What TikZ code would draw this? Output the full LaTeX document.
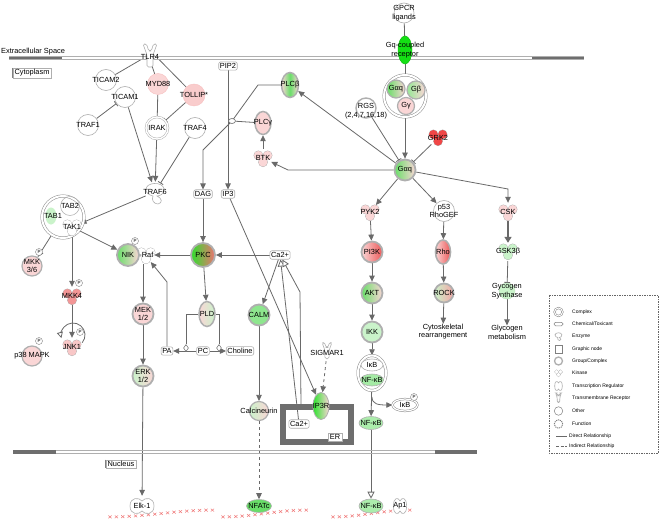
\documentclass[tikz,border=0pt]{standalone}
\usepackage{fontspec}
\setmainfont{Liberation Sans}
\usetikzlibrary{arrows.meta,shapes.geometric,calc}
\pgfdeclarelayer{bg}
\pgfsetlayers{bg,main}
\definecolor{pinkL}{RGB}{250,214,214}
\definecolor{pinkM}{RGB}{244,165,165}
\definecolor{redM}{RGB}{236,88,88}
\definecolor{redS}{RGB}{240,70,70}
\definecolor{greenB}{RGB}{20,224,20}
\definecolor{greenM}{RGB}{105,222,105}
\definecolor{greenL}{RGB}{202,243,202}
\definecolor{edgec}{RGB}{105,105,105}
\definecolor{outl}{RGB}{175,175,175}
\definecolor{memb}{RGB}{110,110,110}
\definecolor{dnac}{RGB}{240,120,120}
\tikzset{
  pics/kin/.style={code={
    \filldraw[draw=outl, fill=#1, line width=0.8pt] (-4.6,-2.6) circle (4.4) (4.6,-2.6) circle (4.4) (0,4.2) circle (4.4);
    \fill[#1] (-4.6,-2.6) circle (4.4) (4.6,-2.6) circle (4.4) (0,4.2) circle (4.4);
  }},
  pics/tmr/.style={code={
    \filldraw[draw=outl, fill=white, line width=0.6pt, rounded corners=1.5pt]
      (-7,-12) -- (-3.5,-12) -- (-1.2,-5) -- (1.2,-5) -- (3.5,-12) -- (7,-12) -- (3,-1) -- (3,11) -- (-3,11) -- (-3,-1) -- cycle;
  }},
  pics/treg/.style={code={
    \filldraw[draw=outl, fill=white, line width=0.6pt] (-12,0) .. controls (-12,-9) and (-3,-9) .. (0,-5) .. controls (3,-9) and (12,-9) .. (12,0) .. controls (12,9) and (3,9) .. (0,5) .. controls (-3,9) and (-12,9) .. cycle;
  }},
  pics/enz/.style={code={
    \filldraw[draw=outl, fill=white, line width=0.6pt] (-9,-2) .. controls (-10,-10) and (8,-11) .. (9,-3) .. controls (9,2) and (5,4) .. (2,4) .. controls (7,6) and (8,11) .. (3,12) .. controls (-1,12) and (-4,8) .. (-2,4) .. controls (-6,3) and (-9,1) .. cycle;
  }},
}
\begin{document}
\begin{tikzpicture}[x=1pt,y=-1pt,
  every node/.style={font=\fontsize{7.4}{8.4}\selectfont, inner sep=0pt, align=center},
  t/.style={label={center:#1}},
  oth/.style={circle, draw=outl, line width=0.6pt, fill=white, minimum size=#1},
  oth/.default=21,
  grp/.style={circle, draw=outl, line width=1.8pt, minimum size=#1},
  grp/.default=21,
  chem/.style={rectangle, rounded corners=2pt, draw=outl, line width=0.6pt, fill=white, inner xsep=1.2pt, inner ysep=1.6pt},
  hit/.style={circle, minimum size=#1},
  hit/.default=18,
  lnk/.style={draw=edgec, line width=0.8pt},
  arr/.style={lnk, -{Triangle[length=6pt,width=5.5pt]}},
  inh/.style={lnk, -{Bar[width=6pt,line width=0.8pt]}},
  oarr/.style={lnk, -{Triangle[open,length=7pt,width=7pt,fill=white]}},
  phos/.style={circle, draw=gray, line width=0.4pt, fill=white, minimum size=7, font=\fontsize{4.5}{5}\selectfont},
  junc/.style={ellipse, draw=edgec, line width=0.6pt, fill=white, minimum width=7, minimum height=5},
  rxn/.style={diamond, draw=edgec, line width=0.5pt, fill=white, minimum width=5, minimum height=7},
  leg/.style={anchor=west, font=\fontsize{5}{6}\selectfont},
  dna/.style={draw=dnac, line width=0.5pt},
  tagbox/.style={draw=outl, line width=0.5pt, inner xsep=1.5pt, inner ysep=1.5pt},
]
\useasboundingbox (0,0) rectangle (660,521);
\begin{pgfonlayer}{bg}
\fill[white] (0,0) rectangle (660,521);
\end{pgfonlayer}

% membranes
\draw[outl, line width=0.5pt] (9,56.6) -- (584,56.6) (9,59.4) -- (584,59.4);
\draw[memb, line width=2.6pt] (9,58) -- (62,58) (532,58) -- (584,58);
\draw[outl, line width=0.5pt] (13,450.3) -- (477,450.3) (13,453.7) -- (477,453.7);
\draw[memb, line width=3.4pt] (13,452) -- (56,452) (435,452) -- (477,452);
\node[anchor=west] (extra) at (1,52) {Extracellular Space};
\node[tagbox] (cyto) at (32,73) {Cytoplasm};
\draw[gray, line width=0.8pt] (cyto.north west) -- (cyto.south west);
\node[tagbox] (nucl) at (121,464) {Nucleus};
\draw[gray, line width=0.8pt] (nucl.north west) -- (nucl.south west);

% GPCR part
\node[oth=20, t={GPCR\\ligands}] (gpcr) at (404,13) {};
\node[ellipse, fill=greenB, draw=greenB!85!black, line width=0.5pt, minimum width=14, minimum height=28, t={Gq-coupled\\receptor}] (gqr) at (405,50) {};
\node[circle, draw=gray!90, line width=0.5pt, double=white, double distance=2pt, fill=white, minimum size=42] (gcx) at (405,96) {};
\node[circle, draw=outl, line width=1.2pt, left color=greenM, right color=pinkL, minimum size=18, t={Gαq}] (gaqa) at (396,89) {};
\node[circle, draw=outl, line width=1.2pt, left color=greenM!70!white, right color=pinkL, minimum size=18, t={Gβ}] (gb) at (416,90) {};
\node[circle, draw=outl, line width=1.2pt, fill=pinkL, minimum size=17, t={Gγ}] (gg) at (406,106) {};
\node[grp=21, left color=greenM, right color=pinkL, t={Gαq}] (gaq) at (405,170) {};
\node[grp=20, fill=white, line width=1.4pt] (rgs) at (366,108) {};
\node (rgst) at (366,111) {RGS\\(2,4,7,16,18)};
\pic at (438,137) {kin=redS};
\node[hit, t={GRK2}] (grk2) at (438,138) {};

% PLC part
\node[ellipse, draw=outl, line width=1.5pt, left color=pinkL, right color=pinkL, middle color=greenM, minimum width=17, minimum height=25, t={PLCβ}] (plcb) at (290,85) {};
\node[ellipse, draw=outl, line width=1.5pt, fill=pinkL, minimum width=16, minimum height=23, t={PLCγ}] (plcg) at (263,123) {};
\pic at (263,158) {kin=pinkL};
\node[hit, t={BTK}] (btk) at (263,158) {};
\node[chem] (pip2) at (228,66) {PIP2};
\node[chem] (dag) at (203,194) {DAG};
\node[chem] (ip3) at (228,194) {IP3};
\node[junc] (jn) at (232,121) {};

% TLR part
\pic at (150,56) {tmr};
\node (tlr4) at (150,57) {TLR4};
\node[oth, t={TICAM2}] (ticam2) at (106,80) {};
\node[oth, t={TICAM1}] (ticam1) at (125,97) {};
\node[circle, fill=pinkL, draw=pinkM!70, line width=0.4pt, minimum size=21, t={MYD88}] (myd88) at (158,84) {};
\node[circle, fill=pinkL!80!pinkM, draw=pinkM!70, line width=0.4pt, minimum size=22, t={TOLLIP*}] (tollip) at (194,95) {};
\node[oth, t={TRAF1}] (traf1) at (88,125) {};
\node[circle, draw=outl, line width=0.5pt, double=white, double distance=1.3pt, fill=white, minimum size=22, t={IRAK}] (irak) at (157,128) {};
\node[oth, t={TRAF4}] (traf4) at (195,128) {};
\pic at (155,192) {enz};
\node[hit=20, t={TRAF6}] (traf6) at (155,192) {};

% TAB complex
\node[circle, draw=gray!90, line width=0.5pt, double=white, double distance=2pt, fill=white, minimum size=42] (tabcx) at (63,217) {};
\node[circle, draw=outl, line width=0.5pt, minimum size=19] (tab2c) at (70,206) {};
\node[ellipse, fill=greenL, minimum width=11, minimum height=17] (tab1c) at (51,216) {};
\pic at (72,227) {kin=white};
\node (tab2) at (70,206) {TAB2};
\node (tab1) at (53,216) {TAB1};
\node (tak1) at (72,227) {TAK1};
\node[hit=18] (tak1k) at (72,227) {};

% MAPK branch
\node[circle, fill=pinkL, draw=outl, line width=1.2pt, minimum size=20, t={MKK\\3/6}] (mkk36) at (32,266) {};
\node[phos] (p1) at (39,252) {P};
\pic at (72,296) {kin=pinkM!80!redM};
\node[hit, t={MKK4}] (mkk4) at (72,296) {};
\node[phos] (p5) at (79,283) {P};
\pic at (72,347) {kin=pinkL!70!pinkM};
\node[hit, t={JNK1}] (jnk1) at (72,347) {};
\node[phos] (p6) at (80,332) {P};
\node[circle, fill=pinkL, draw=outl, line width=1.2pt, minimum size=20, t={p38 MAPK}] (p38) at (32,356) {};
\node[phos] (p4) at (39,341) {P};

% NIK / Raf / PKC
\pic at (146,255) {kin=white};
\node (raft) at (144.5,255) {c-Raf};
\node[hit=18] (raf) at (145,255) {};
\node[phos] (p2) at (135,241) {P};
\node[grp=22, left color=greenM, right color=pinkL, t={NIK}] (nik) at (128,255) {};
\node[grp=24, left color=greenB!70!greenM, right color=redM!80!pinkL, t={PKC}] (pkc) at (203,255) {};
\node[chem] (ca) at (280,255) {Ca2+};
\node[ellipse, draw=outl, line width=1.5pt, left color=pinkL, right color=greenL, minimum width=16, minimum height=25, t={PLD}] (pld) at (207,314) {};
\node[grp=21, fill=pinkL, t={MEK\\1/2}] (mek) at (143,314) {};
\node[grp=21, left color=greenL, right color=pinkL, t={ERK\\1/2}] (erk) at (143,376) {};
\node[chem] (pa) at (167,351) {PA};
\node[chem] (pc) at (203,351) {PC};
\node[chem] (chol) at (240,351) {Choline};
\node[rxn] (r1) at (186,348) {};
\node[rxn] (r2) at (219,348) {};

% Calcium branch
\node[grp=21, fill=greenM!75!white, t={CALM}] (calm) at (259,315) {};
\node[circle, draw=outl, line width=1.2pt, left color=greenL, right color=pinkL, minimum size=19, t={Calcineurin}] (calc) at (259,411) {};
\pic[scale=0.7] at (327,351) {tmr};
\node[hit=16, t={SIGMAR1}] (sig) at (327,353) {};
\draw[memb, line width=5.5pt] (283,407) rectangle (351,442);
\node[ellipse, draw=outl, line width=0.8pt, left color=greenB!90!white, right color=pinkL, minimum width=16, minimum height=27, t={IP3R}] (ip3r) at (321,406) {};
\node[chem] (caer) at (299,424) {Ca2+};
\node[rectangle, draw=outl, line width=0.5pt, fill=white, inner xsep=2pt, inner ysep=1.5pt] (er) at (335,437) {ER};

% PYK2 / NF-kB branch
\pic at (370,212) {kin=pinkL};
\node[hit, t={PYK2}] (pyk2) at (370,212) {};
\node[grp=21, left color=pinkL, right color=redM, t={PI3K}] (pi3k) at (372,252) {};
\node[grp=21, left color=greenM, right color=pinkL, t={AKT}] (akt) at (372,293) {};
\node[grp=21, fill=greenL, t={IKK}] (ikk) at (372,332) {};
\node[ellipse, draw=gray!90, line width=0.5pt, double=white, double distance=2pt, fill=white, minimum width=28, minimum height=35] (ikbcx) at (372,373) {};
\node[ellipse, draw=outl, line width=0.6pt, fill=white, minimum width=22, minimum height=12, t={IκB}] (ikb) at (372,365) {};
\node[ellipse, draw=outl, line width=0.6pt, fill=greenM!60!white, minimum width=23, minimum height=12, t={NF-κB}] (nfkb0) at (372,380) {};
\node[ellipse, draw=gray!90, line width=0.5pt, double=white, double distance=1.2pt, fill=white, minimum width=25, minimum height=12, t={IκB}] (ikbp) at (405,405) {};
\node[phos] (p3) at (414,397) {P};
\node[ellipse, draw=outl, line width=0.6pt, fill=greenM!55!white, minimum width=24, minimum height=13, t={NF-κB}] (nfkb1) at (371,423) {};

% Rho branch / CSK branch
\node[oth, t={p53\\RhoGEF}] (rhogef) at (444,211) {};
\node[ellipse, draw=outl, line width=1.6pt, left color=pinkL, right color=redM, minimum width=15, minimum height=24, t={Rho}] (rho) at (443,252) {};
\node[grp=19, left color=greenL, right color=pinkM, t={ROCK}] (rock) at (444,293) {};
\node (cytr) at (443,331.5) {Cytoskeletal\\rearrangement};
\pic at (508,212) {kin=pinkL};
\node[hit, t={CSK}] (csk) at (508,212) {};
\pic at (508,251) {kin=greenL};
\node[hit, t={GSK3β}] (gsk) at (508,252) {};
\node[circle, fill=greenL, draw=greenL!80!gray, line width=0.4pt, minimum size=16, t={Gycogen\\Synthase}] (gs) at (507,291) {};
\node (glym) at (507,332.5) {Glycogen\\metabolism};

% DNA marks
\foreach \xa/\n in {110/16, 223/13, 333/12} {
  \foreach \i in {0,...,\n} {
    \pgfmathsetmacro\xx{\xa+6.4*\i}
    \pgfmathsetmacro\yy{513.5+3.4*cos(\i*180/\n)}
    \draw[dna] (\xx-1.6,\yy-1.4) -- (\xx+1.6,\yy+1.4) (\xx-1.6,\yy+1.4) -- (\xx+1.6,\yy-1.4);
  }
}

% nuclear nodes
\pic at (142,506) {treg};
\node[hit=20, t={Elk-1}] (elk) at (142,506) {};
\node[ellipse, draw=outl, line width=0.6pt, fill=greenM, minimum width=25, minimum height=13, t={NFATc}] (nfatc) at (259,506) {};
\node[ellipse, draw=outl, line width=0.6pt, fill=greenM!55!white, minimum width=24, minimum height=14, t={NF-κB}] (nfkbn) at (371,506) {};
\pic[xscale=0.55] at (400,506) {treg};
\node[hit=14, t={Ap1}] (ap1) at (400,506) {};

\coordinate (br) at (372,397);
\coordinate (jl) at (73,335);

% connectors
\begin{pgfonlayer}{bg}
\draw[lnk] (gpcr) -- (gqr);
\draw[lnk] (gqr) -- (gcx);
\draw[arr] (gcx) -- (gaq);
\draw[inh] (rgs) -- (gaq);
\draw[inh] (grk2) -- (gaq);
\draw[arr] (gaq) -- (plcb);
\draw[arr] (gaq.west) -- (288,170) -- (btk);
\draw[arr] (btk) -- (plcg);
\draw[lnk] (plcb) -- (258,85) -- (jn.center);
\draw[arr] (jn.center) -- (203,150) -- (dag);
\draw[lnk] (plcg) -- (jn);
\draw[arr] (pip2) -- (ip3);
\draw[arr] (dag) -- (pkc);
\draw[arr] (ip3) -- (ip3r);
\draw[arr] (ca) -- (pkc);
\draw[arr] (ca) -- (calm);
\draw[arr] (calm) -- (calc);
\draw[arr, dashed] (calc) -- (nfatc);
\draw[oarr] (caer) -- (ca);
\draw[oarr] (ip3r.west) -- (301,406) -- (300,292) -- (ca);
\draw[arr, dashed] (sig) -- (ip3r);
\draw[arr] (pkc) -- (raf);
\draw[arr] (pkc) -- (pld);
\draw[lnk] (pld.west) -- (186,314) -- (r1);
\draw[lnk] (pld.east) -- (219,314) -- (r2);
\draw[arr] (pc) -- (pa);
\draw[arr] (pc) -- (chol);
\draw[arr] (pa) -- (167,282) -- (raf);
\draw[arr] (raf.south -| mek.north) -- (mek);
\draw[arr] (mek) -- (erk);
\draw[arr] (erk) -- (elk);
\draw[arr] (tak1k) -- (nik);
\draw[arr] (tabcx) -- (mkk36);
\draw[arr] (tak1k.south) -- (mkk4);
\draw[arr] (mkk4) -- (jnk1);
\draw[lnk, -{Triangle[open,length=6pt,width=6pt,fill=white]}] ($(jl)+(9.2,7.7)$) arc[start angle=40, end angle=-195, radius=12];
\draw[arr] (traf6) -- (tak1k);
\draw[arr] (ticam1) -- (traf6);
\draw[arr] (irak) -- (traf6);
\draw[inh] (traf4) -- (traf6);
\draw[inh] (traf1) -- (ticam1);
\draw[lnk] (tlr4.south west) -- (ticam2);
\draw[lnk] (tlr4.south east) -- (tollip);
\draw[lnk] (tlr4.south) -- (myd88);
\draw[inh] (tollip) -- (irak);
\draw[lnk] (myd88) -- (irak);
\draw[arr] (gaq) -- (pyk2);
\draw[arr] (gaq) -- (rhogef);
\draw[arr] (gaq) -- (508,189) -- (csk);
\draw[arr] (pyk2) -- (pi3k);
\draw[arr] (pi3k) -- (akt);
\draw[arr] (akt) -- (ikk);
\draw[arr] (ikk) -- (ikbcx);
\draw[arr] (ikbcx) -- (nfkb1);
\draw[arr] (br) .. controls (372,404) and (378,405) .. (ikbp.west);
\draw[oarr] (nfkb1) -- (nfkbn);
\draw[arr] (rhogef) -- (rho);
\draw[arr] (rho) -- (rock);
\draw[arr] (rock) -- (cytr);
\draw[lnk, line width=2pt, -{Triangle[length=6pt,width=7pt]}] (csk) -- (gsk);
\draw[inh] (gsk) -- (gs);
\draw[arr] (gs) -- (glym);
\end{pgfonlayer}

% legend
\draw[gray!80!black, line width=0.4pt, dash pattern=on 1.5pt off 1pt] (549,295) rectangle (658,453);
\node[circle, draw=gray, line width=0.5pt, double=white, double distance=1pt, minimum size=8] (lg1) at (558.5,312) {};
\node[leg] (lt1) at (572,312) {Complex};
\node[rectangle, rounded corners=1.5pt, draw=gray, line width=0.5pt, minimum width=9, minimum height=3.5] (lg2) at (558.5,324) {};
\node[leg] (lt2) at (572,324) {Chemical/Toxicant};
\pic[scale=0.38] at (558.5,336) {enz};
\node[leg] (lt3) at (572,336) {Enzyme};
\node[rectangle, draw=gray, line width=0.5pt, minimum size=7.5] (lg4) at (558.5,349) {};
\node[leg] (lt4) at (572,349) {Graphic node};
\node[circle, draw=outl, line width=1.3pt, minimum size=8] (lg5) at (558.5,361) {};
\node[leg] (lt5) at (572,361) {Group/Complex};
\pic[scale=0.42] at (558.5,373) {kin=white};
\node[leg] (lt6) at (572,373) {Kinase};
\pic[xscale=0.32, yscale=0.6] at (558.5,386) {treg};
\node[leg] (lt7) at (572,386) {Transcription Regulator};
\pic[scale=0.42] at (558.5,398) {tmr};
\node[leg] (lt8) at (572,398) {Transmembrane Receptor};
\node[circle, draw=gray, line width=0.5pt, minimum size=8.5] (lg9) at (558.5,411) {};
\node[leg] (lt9) at (572,411) {Other};
\node[circle, draw=gray, line width=0.9pt, dash pattern=on 1.2pt off 0.8pt, minimum size=8.5] (lg10) at (558.5,424) {};
\node[leg] (lt10) at (572,424) {Function};
\coordinate (ld1) at (556,436); \coordinate (ld2) at (567,436);
\draw[lnk, line width=0.9pt] (ld1) -- (ld2);
\node[leg] (lt11) at (569,436) {Direct Relationship};
\coordinate (ld3) at (556,446); \coordinate (ld4) at (567,446);
\draw[lnk, line width=0.9pt, dash pattern=on 3pt off 1.5pt] (ld3) -- (ld4);
\node[leg] (lt12) at (569,446) {Indirect Relationship};
\end{tikzpicture}
\end{document}
